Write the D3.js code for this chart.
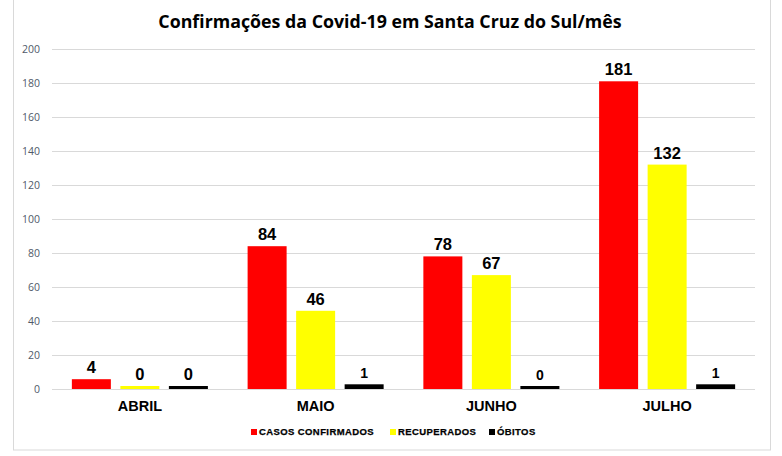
<!DOCTYPE html>
<html>
<head>
<meta charset="utf-8">
<script src="https://cdn.jsdelivr.net/npm/d3@7"></script>
<style>
  body { margin: 0; background: #fff; }
  svg { display: block; }
</style>
</head>
<body>
<div id="chart"></div>
<script>
// chart data
var months = ["ABRIL", "MAIO", "JUNHO", "JULHO"];
var seriesNames = ["CASOS CONFIRMADOS", "RECUPERADOS", "ÓBITOS"];
var casos = [4, 84, 78, 181];
var recuperados = [0, 46, 67, 132];
var obitos = [0, 1, 0, 1];
var yTicks = [0, 20, 40, 60, 80, 100, 120, 140, 160, 180, 200];

var colors = ["#ff0000", "#ffff00", "#000000"];
var svgwidth = 782, svgheight = 456;
var margin = {top: 49, right: 27, bottom: 67, left: 52};
var width = svgwidth - margin.left - margin.right;
var height = svgheight - margin.top - margin.bottom;

var svg = d3.select("#chart").append("svg")
    .attr("width", svgwidth)
    .attr("height", svgheight);

// outer frame
svg.append("rect")
    .attr("x", 13.5).attr("y", -5)
    .attr("width", 757).attr("height", 455)
    .attr("fill", "none")
    .attr("stroke", "#d9d9d9");

svg.append("text")
    .attr("x", 390).attr("y", 28)
    .attr("text-anchor", "middle")
    .attr("font-family", "Open Sans, sans-serif")
    .attr("font-weight", "bold")
    .attr("font-size", 17.8)
    .attr("fill", "#000")
    .text("Confirmações da Covid-19 em Santa Cruz do Sul/mês");

var g = svg.append("g").attr("transform", `translate(${margin.left},${margin.top})`);

var x0 = d3.scaleBand().domain(months).range([0, width]).paddingInner(0.226).paddingOuter(0.113);
var x1 = d3.scaleBand().domain(seriesNames).range([0, x0.bandwidth()]).paddingInner(0.196);
var y = d3.scaleLinear().domain([0, 200]).range([height, 0]);

// gridlines
g.selectAll("line.grid").data(yTicks).enter().append("line")
    .attr("x1", 0).attr("x2", width)
    .attr("y1", d => Math.round(y(d)) + 0.5).attr("y2", d => Math.round(y(d)) + 0.5)
    .attr("stroke", "#d9d9d9");

var yAxis = g.append("g").call(d3.axisLeft(y).tickValues(yTicks).tickSize(0).tickPadding(12));
yAxis.select(".domain").remove();
yAxis.selectAll("text")
    .attr("font-family", "Open Sans, sans-serif")
    .attr("font-size", 10.5)
    .attr("fill", "#505a6a");

var data = months.map(function(m, i) {
    return {month: m, values: [casos[i], recuperados[i], obitos[i]]};
});

var groups = g.selectAll("g.month").data(data).enter().append("g")
    .attr("transform", d => `translate(${x0(d.month)},0)`);

function barTop(v) {
    // small values get a 3px stub added so they stay visible, like the original
    return v < 10 ? y(v) - 3 : y(v);
}

function cells(d, i) {
    return d.values.map((v, j) => ({v: v, s: seriesNames[j], j: j, m: i}));
}

groups.selectAll("rect").data(cells)
    .enter().append("rect")
    .attr("x", d => x1(d.s))
    .attr("width", x1.bandwidth())
    .attr("y", d => barTop(d.v))
    .attr("height", d => height - barTop(d.v))
    .attr("fill", d => colors[d.j]);

groups.selectAll("text.val").data(cells)
    .enter().append("text")
    .attr("x", d => x1(d.s) + x1.bandwidth() / 2)
    .attr("y", d => barTop(d.v) - 6)
    .attr("text-anchor", "middle")
    .attr("font-family", "Liberation Sans, Arial, sans-serif")
    .attr("font-weight", "bold")
    .attr("font-size", d => (d.j == 2 && d.m > 0) ? 14 : 16.5)
    .text(d => d.v);

// month labels
g.selectAll("text.cat").data(months).enter().append("text")
    .attr("x", d => x0(d) + x0.bandwidth() / 2)
    .attr("y", height + 22)
    .attr("text-anchor", "middle")
    .attr("font-family", "Liberation Sans, Arial, sans-serif")
    .attr("font-weight", "bold")
    .attr("font-size", 14.5)
    .text(d => d);

// legend
var legendX = [251, 390, 489];
var legend = svg.selectAll("g.leg").data(seriesNames).enter().append("g")
    .attr("transform", (d, i) => `translate(${legendX[i]},429)`);
legend.append("rect")
    .attr("width", 6).attr("height", 6)
    .attr("fill", (d, i) => colors[i]);
legend.append("text")
    .attr("x", 8).attr("y", 5.5)
    .attr("font-family", "Liberation Sans, Arial, sans-serif")
    .attr("font-weight", "bold")
    .attr("font-size", 9.5)
    .attr("letter-spacing", 0.4)
    .attr("stroke", "#000")
    .attr("stroke-width", 0.25)
    .text(d => d);
</script>
</body>
</html>
